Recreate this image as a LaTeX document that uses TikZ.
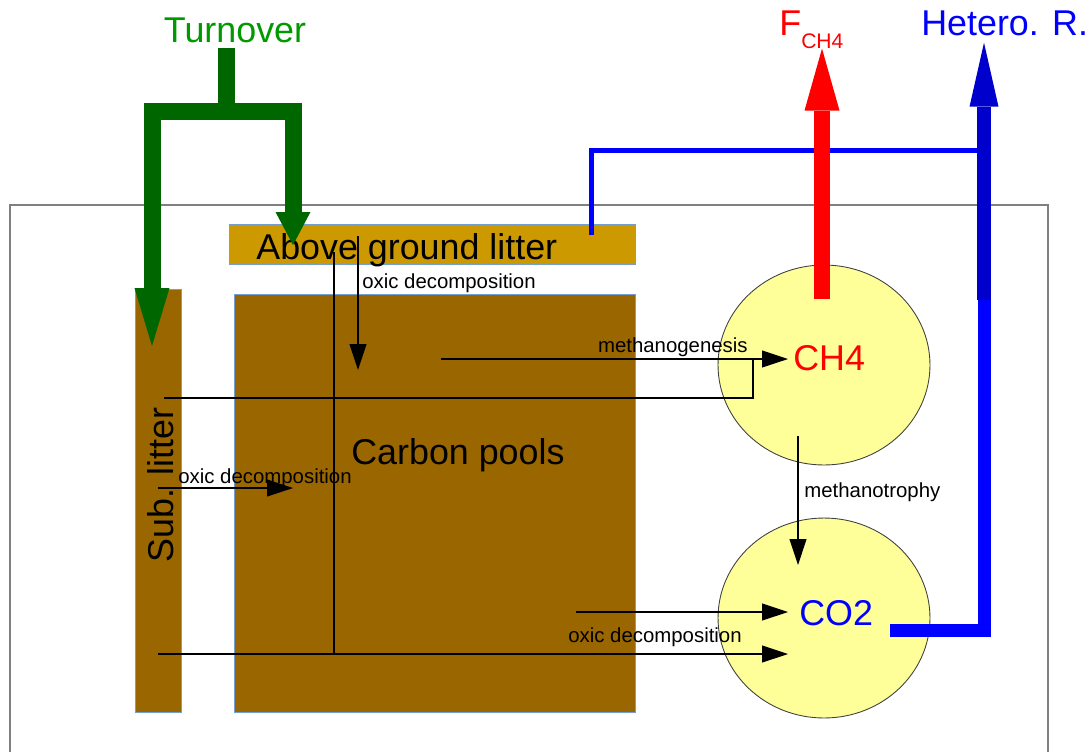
\documentclass[tikz,border=0pt]{standalone}
\usepackage{fontspec}
\setmainfont{Liberation Sans}
\usepackage{xcolor}
\definecolor{turngreen}{HTML}{006600}
\definecolor{labelgreen}{HTML}{009900}
\definecolor{litteryellow}{HTML}{CC9900}
\definecolor{soilbrown}{HTML}{996600}
\definecolor{gasyellow}{HTML}{FFFF99}
\definecolor{edgeblue}{HTML}{729FCF}
\definecolor{respblue}{HTML}{0000CC}
\usetikzlibrary{arrows.meta, shapes.geometric}

\begin{document}
\begin{tikzpicture}[x=0.02cm, y=-0.02cm,
    big/.style={font=\fontsize{20.4pt}{24pt}\selectfont, inner sep=0pt},
    small/.style={font=\fontsize{11.6pt}{14pt}\selectfont, inner sep=0pt},
    poolbox/.style={draw=edgeblue, line width=0.5pt, fill=soilbrown, inner sep=0pt},
    gaspool/.style={ellipse, draw=black!75, line width=0.5pt, fill=gasyellow,
      minimum width=4.24cm, minimum height=4cm, inner sep=0pt},
    flux/.style={line width=0.6pt, -{Triangle[length=0.52cm, width=0.34cm]}},
    fluxline/.style={line width=0.6pt}
]
  \useasboundingbox (0,0) rectangle (1088,751);

  % soil column
  \draw[gray, line width=0.6pt] (10,205) rectangle (1048,760);

  % pools
  \node[poolbox, fill=litteryellow, minimum width=8.12cm, minimum height=0.8cm] (agl) at (432,244) {};
  \node[poolbox, minimum width=0.92cm, minimum height=8.46cm] (sub) at (158,500.5) {};
  \node[poolbox, minimum width=8.02cm, minimum height=8.36cm] (pools) at (434.5,503) {};
  \node[gaspool] (ch4) at (824,365) {};
  \node[gaspool] (co2) at (824,618) {};

  % pool names
  \node[big, anchor=base west] (agltext) at (256,259) {Above ground litter};
  \node[big, anchor=base west, rotate=90] (subtext) at (173,563) {Sub. litter};
  \node[big, anchor=base west] (poolstext) at (351,464) {Carbon pools};
  \node[big, anchor=base west, red] (ch4text) at (793,370) {CH4};
  \node[big, anchor=base west, blue] (co2text) at (799,625) {CO2};

  % fluxes in and out
  \node[big, anchor=base, labelgreen] (turnover) at (235,42) {Turnover};
  \node[big, anchor=base west, red] (fch4) at (779,35) {F\raisebox{-0.26cm}{\fontsize{12pt}{14pt}\selectfont CH4}};
  \node[big, anchor=base west, blue] (hetero) at (921,35) {Hetero. R.};

  \coordinate (split) at (226,111);
  \coordinate (subin) at (152,346);
  \coordinate (aglin) at (293,245);
  \draw[turngreen, line width=0.34cm] ([yshift=-0.1cm]split |- turnover.south) -- (split);
  \draw[turngreen, line width=0.34cm,
    {Triangle[length=1.16cm, width=0.7cm, line width=0pt]}-{Triangle[length=0.66cm, width=0.7cm, line width=0pt]}]
    (subin) -- (subin |- split) -- (aglin |- split) -- (aglin);

  \coordinate (aglout) at (591,235);
  \coordinate (hrjoin) at (984,150);
  \coordinate (hrbase) at (984,300);
  \coordinate (co2out) at (890,630);
  \coordinate (ch4out) at (822,299);
  \draw[blue, line width=0.1cm] (aglout) |- (hrjoin);
  \draw[red, line width=0.32cm, -{Triangle[length=1.24cm, width=0.7cm, line width=0pt]}]
    (ch4out) -- (ch4out |- fch4.south);
  \draw[blue, line width=0.26cm] (co2out) -| (hrbase);
  \draw[respblue, line width=0.28cm, -{Triangle[length=1.28cm, width=0.58cm, line width=0pt]}]
    (hrbase) -- ([yshift=-0.14cm]hrbase |- hetero.south);

  % internal transfers
  \coordinate (aglox) at (358,236);
  \coordinate (poolsin) at (358,370);
  \coordinate (aglan) at (334,252);
  \coordinate (lowjoin) at (334,654);
  \coordinate (sublow) at (158,654);
  \coordinate (co2low) at (788,654);
  \coordinate (submeth) at (164,398);
  \coordinate (methjoin) at (753,359);
  \coordinate (poolsmeth) at (441,359);
  \coordinate (ch4in) at (788,359);
  \coordinate (subox) at (158,488);
  \coordinate (poolsox) at (293,488);
  \coordinate (poolsco2) at (576,612);
  \coordinate (co2in) at (788,612);
  \coordinate (ch4down) at (798,436);
  \coordinate (co2top) at (798,565);

  \draw[flux] (aglox) -- (poolsin);
  \draw[fluxline] (aglan) -- (lowjoin);
  \draw[flux] (sublow) -- (co2low);
  \draw[fluxline] (submeth) -| (methjoin);
  \draw[flux] (poolsmeth) -- (ch4in);
  \draw[flux] (subox) -- (poolsox);
  \draw[flux] (poolsco2) -- (co2in);
  \draw[flux] (ch4down) -- (co2top);

  \node[small, anchor=base west] (oxtop) at (362,288) {oxic decomposition};
  \node[small, anchor=base east] (methlab) at (748,352) {methanogenesis};
  \node[small, anchor=base west] (oxsub) at (178,483) {oxic decomposition};
  \node[small, anchor=base west] (oxlow) at (568,642) {oxic decomposition};
  \node[small, anchor=base west] (mtlab) at (804,497) {methanotrophy};

\end{tikzpicture}
\end{document}
